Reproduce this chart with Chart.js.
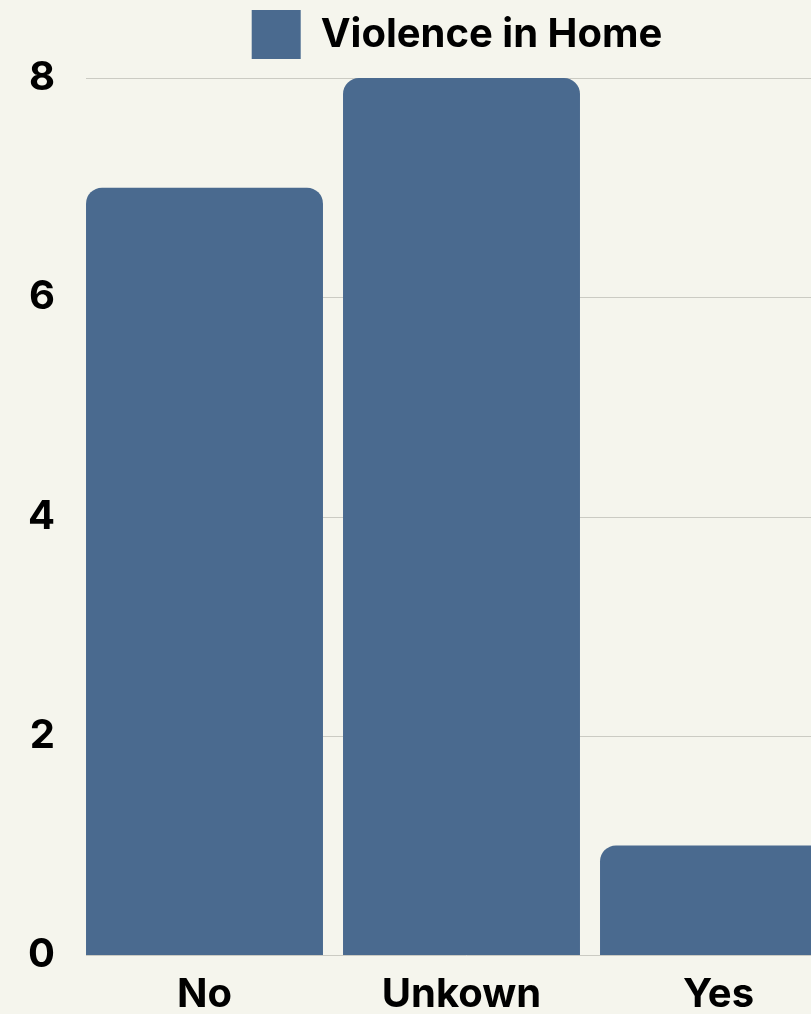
<!DOCTYPE html>
<html>
<head>
<meta charset="utf-8">
<script src="https://cdn.jsdelivr.net/npm/chart.js@4"></script>
<style>
  html, body { margin: 0; padding: 0; background: #f5f5ed; overflow: hidden; }
  #wrap { width: 914px; height: 1014px; }
</style>
</head>
<body>
<div id="wrap"><canvas id="myChart" width="914" height="1014"></canvas></div>
<script>
const categorias = ["No", "Unkown", "Yes"];
const valores = [7, 8, 1];
const serieNombre = "Violence in Home";
const ticksY = [0, 2, 4, 6, 8];

const colorBarra = "#4a6a8f";
const colorGuia = "#cbcbc3";
const fuente = "Inter, 'DejaVu Sans', sans-serif";

const ctx = document.getElementById("myChart");

// ejes vacios que solo reservan espacio
const ejeVacio = (pos, tam) => ({
  type: "category",
  position: pos,
  display: true,
  grid: { display: false, drawTicks: false },
  border: { display: false },
  ticks: { display: false },
  afterFit: (scale) => {
    if (pos === "top") scale.height = tam;
    else scale.width = tam;
  },
});

// lineas horizontales desde el borde de la primera barra
const lineasGuia = {
  id: "lineasGuia",
  beforeDatasetsDraw(chart) {
    const { ctx, chartArea, scales } = chart;
    ctx.save();
    ctx.strokeStyle = colorGuia;
    ctx.lineWidth = 1;
    scales.y.ticks.forEach((t) => {
      const y = Math.round(scales.y.getPixelForValue(t.value)) + 0.5;
      ctx.beginPath();
      ctx.moveTo(chartArea.left + 10, y);
      ctx.lineTo(chartArea.right, y);
      ctx.stroke();
    });
    ctx.restore();
  },
};

const myChart = new Chart(ctx, {
  type: "bar",
  data: {
    labels: categorias,
    datasets: [
      {
        label: serieNombre,
        data: valores,
        backgroundColor: colorBarra,
        borderWidth: 0,
        borderRadius: { topLeft: 16, topRight: 16, bottomLeft: 0, bottomRight: 0 },
        borderSkipped: "bottom",
        categoryPercentage: 1,
        barPercentage: 0.922,
      },
    ],
  },
  options: {
    responsive: false,
    animation: false,
    layout: { padding: 0 },
    plugins: {
      legend: {
        position: "top",
        labels: {
          boxWidth: 49,
          boxHeight: 49,
          padding: 10,
          color: "#000",
          font: { family: fuente, size: 40, weight: "bold" },
        },
      },
      tooltip: { enabled: false },
    },
    scales: {
      x: {
        grid: { display: false, drawTicks: false },
        border: { display: false },
        afterFit: (scale) => {
          scale.height = 59;
        },
        ticks: {
          padding: 16,
          color: "#000",
          font: { family: fuente, size: 40, weight: "bold" },
        },
      },
      y: {
        min: 0,
        max: 8,
        afterBuildTicks: (scale) => {
          scale.ticks = ticksY.map((v) => ({ value: v }));
        },
        afterFit: (scale) => {
          scale.width = 76;
        },
        grid: { display: false, drawTicks: false },
        border: { display: false },
        ticks: {
          padding: 21,
          color: "#000",
          font: { family: fuente, size: 40, weight: "bold" },
        },
      },
      arriba: ejeVacio("top", 9),
      derecha: ejeVacio("right", 67),
    },
  },
  plugins: [lineasGuia],
});
</script>
</body>
</html>
